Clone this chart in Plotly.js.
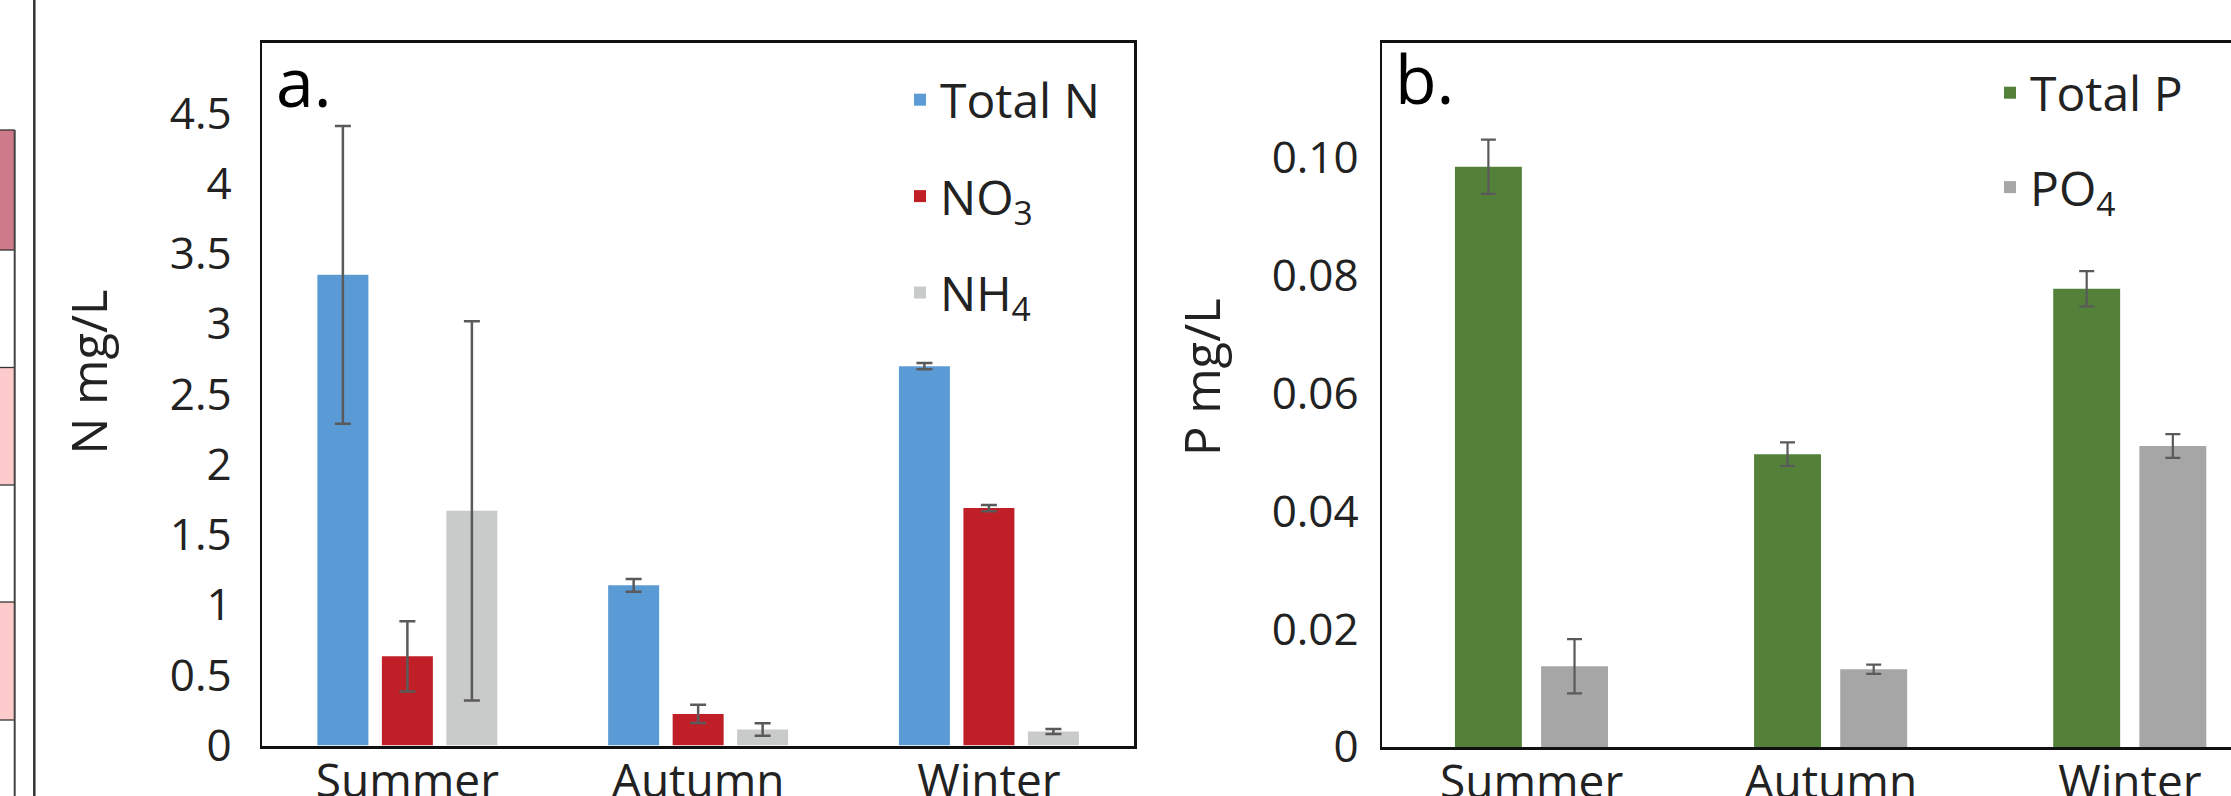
<!DOCTYPE html>
<html>
<head>
<meta charset="utf-8">
<script src="https://cdn.plot.ly/plotly-3.0.1.min.js"></script>
<style>
  html, body { margin: 0; padding: 0; background: #ffffff; }
  #chart { width: 2231px; height: 796px; }
</style>
</head>
<body>
<div id="chart"></div>
<script>
// ---------- data ----------
const categories = ['Summer', 'Autumn', 'Winter'];

// Panel a: nitrogen (mg/L)
const totalN    = [3.35, 1.14, 2.70];
const totalNErr = [1.06, 0.045, 0.022];
const no3       = [0.635, 0.225, 1.69];
const no3Err    = [0.25, 0.065, 0.022];
const nh4       = [1.67, 0.114, 0.10];
const nh4Err    = [1.35, 0.045, 0.018];

// Panel b: phosphorus (mg/L)
const totalP    = [0.0985, 0.0497, 0.0778];
const totalPErr = [0.0046, 0.0020, 0.0030];
const po4       = [0.0137, 0.0132, 0.0511];
const po4Err    = [0.0046, 0.0008, 0.0020];

// tick labels
const nTickVals = [0, 0.5, 1, 1.5, 2, 2.5, 3, 3.5, 4, 4.5];
const nTickText = ['0', '0.5', '1', '1.5', '2', '2.5', '3', '3.5', '4', '4.5'];
const pTickVals = [0, 0.02, 0.04, 0.06, 0.08, 0.10];
const pTickText = ['0', '0.02', '0.04', '0.06', '0.08', '0.10'];

// ---------- geometry helpers (pixel -> paper) ----------
const W = 2231, H = 796;
const px = v => v / W;
const py = v => 1 - v / H;

const FONT = 'Open Sans, Noto Sans, DejaVu Sans, sans-serif';
const TXT = '#222222';

function errBar(arr, thick, w) {
  return { type: 'data', array: arr, visible: true, color: '#5a5a5a', thickness: thick, width: w };
}

// Panel a bar geometry (category units)
const aW = 0.1754, aStep = 0.2218;
// Panel b bar geometry
const bW = 0.2237;

const traces = [
  { type: 'bar', name: 'Total N', x: categories, y: totalN, error_y: errBar(totalNErr, 2.5, 8),
    marker: { color: '#5b9bd5' }, width: aW, offset: -aStep - aW / 2,
    xaxis: 'x', yaxis: 'y', legend: 'legend', legendgroup: 'a1' },
  { type: 'bar', name: 'NO<sub>3</sub>', x: categories, y: no3, error_y: errBar(no3Err, 2.5, 8),
    marker: { color: '#c01f27' }, width: aW, offset: -aW / 2,
    xaxis: 'x', yaxis: 'y', legend: 'legend', legendgroup: 'a2' },
  { type: 'bar', name: 'NH<sub>4</sub>', x: categories, y: nh4, error_y: errBar(nh4Err, 2.5, 8),
    marker: { color: '#c9caca' }, width: aW, offset: aStep - aW / 2,
    xaxis: 'x', yaxis: 'y', legend: 'legend', legendgroup: 'a3' },
  { type: 'bar', name: 'Total P', x: categories, y: totalP, error_y: errBar(totalPErr, 2.2, 7.5),
    marker: { color: '#538139' }, width: bW, offset: -0.1444 - bW / 2,
    xaxis: 'x2', yaxis: 'y2', legend: 'legend2', legendgroup: 'b1' },
  { type: 'bar', name: 'PO<sub>4</sub>', x: categories, y: po4, error_y: errBar(po4Err, 2.2, 7.5),
    marker: { color: '#a6a6a6' }, width: bW, offset: 0.1436 - bW / 2,
    xaxis: 'x2', yaxis: 'y2', legend: 'legend2', legendgroup: 'b2' }
];

const axisCommon = {
  showgrid: false, zeroline: false, ticks: '', showline: true, linecolor: '#111111',
  tickfont: { family: FONT, size: 44, color: TXT }, automargin: false, fixedrange: true
};

// sliver of neighbouring table on the far left
const shapes = [];
const pinkCells = [
  [130, 250, '#cd7a8b'], [250, 367.5, '#ffffff'], [367.5, 485, '#fdcbcb'],
  [485, 602, '#ffffff'], [602, 720, '#fdcbcb'], [720, 800, '#ffffff']
];
pinkCells.forEach(c => {
  shapes.push({ type: 'rect', xref: 'paper', yref: 'paper', x0: px(-2), x1: px(14.7),
    y0: py(c[0]), y1: py(c[1]), fillcolor: c[2], line: { width: 0 }, layer: 'below' });
});
[130, 250, 367.5, 485, 602, 720].forEach(y => {
  shapes.push({ type: 'line', xref: 'paper', yref: 'paper', x0: px(-2), x1: px(14.7),
    y0: py(y), y1: py(y), line: { color: '#333333', width: 1.3 } });
});
shapes.push({ type: 'line', xref: 'paper', yref: 'paper', x0: px(14.7), x1: px(14.7),
  y0: py(130), y1: py(800), line: { color: '#444444', width: 2 } });
shapes.push({ type: 'line', xref: 'paper', yref: 'paper', x0: px(34.3), x1: px(34.3),
  y0: py(-5), y1: py(801), line: { color: '#333333', width: 2.5 } });

const layout = {
  width: W, height: H,
  margin: { l: 0, r: 0, t: 0, b: 0, pad: 0 },
  paper_bgcolor: '#ffffff', plot_bgcolor: '#ffffff',
  font: { family: FONT, color: TXT },
  barmode: 'overlay',
  xaxis: Object.assign({}, axisCommon, {
    domain: [px(262), px(1134.3)], range: [-0.5, 2.5], anchor: 'y',
    mirror: true, linewidth: 3, type: 'category', ticklabelstandoff: -7,
    tickfont: { family: FONT, size: 46, color: TXT }
  }),
  yaxis: Object.assign({}, axisCommon, {
    domain: [py(745.5), py(43)], range: [0, 5], anchor: 'x',
    mirror: true, linewidth: 2.5, tickmode: 'array', tickvals: nTickVals, ticktext: nTickText,
    ticklabelstandoff: 19
  }),
  xaxis2: Object.assign({}, axisCommon, {
    domain: [px(1382), 1], range: [-0.5, 2.338], anchor: 'y2',
    mirror: true, linewidth: 3, type: 'category', ticklabelstandoff: -7,
    tickfont: { family: FONT, size: 46, color: TXT }
  }),
  yaxis2: Object.assign({}, axisCommon, {
    domain: [py(747), py(42.5)], range: [0, 0.1196], anchor: 'x2',
    mirror: false, linewidth: 2.5, tickmode: 'array', tickvals: pTickVals, ticktext: pTickText,
    ticklabelstandoff: 12
  }),
  legend: {
    x: px(900), xanchor: 'left', y: py(62), yanchor: 'top',
    bgcolor: 'rgba(0,0,0,0)', borderwidth: 0, tracegroupgap: 31,
    font: { family: FONT, size: 48, color: TXT }
  },
  legend2: {
    x: px(1990), xanchor: 'left', y: py(55), yanchor: 'top',
    bgcolor: 'rgba(0,0,0,0)', borderwidth: 0, tracegroupgap: 29,
    font: { family: FONT, size: 48, color: TXT }
  },
  annotations: [
    { text: 'a.', xref: 'paper', yref: 'paper', x: px(274), y: py(32), xanchor: 'left', yanchor: 'top',
      showarrow: false, font: { family: FONT, size: 68, color: '#000000' } },
    { text: 'b.', xref: 'paper', yref: 'paper', x: px(1393), y: py(29), xanchor: 'left', yanchor: 'top',
      showarrow: false, font: { family: FONT, size: 68, color: '#000000' } },
    { text: 'N mg/L', xref: 'paper', yref: 'paper', x: px(87.5), y: py(372), xanchor: 'center', yanchor: 'middle',
      textangle: -90, showarrow: false, font: { family: FONT, size: 49, color: TXT } },
    { text: 'P mg/L', xref: 'paper', yref: 'paper', x: px(1201), y: py(377), xanchor: 'center', yanchor: 'middle',
      textangle: -90, showarrow: false, font: { family: FONT, size: 49, color: TXT } }
  ],
  shapes: shapes,
  showlegend: true
};

Plotly.newPlot('chart', traces, layout, { displayModeBar: false, staticPlot: true });
</script>
</body>
</html>
